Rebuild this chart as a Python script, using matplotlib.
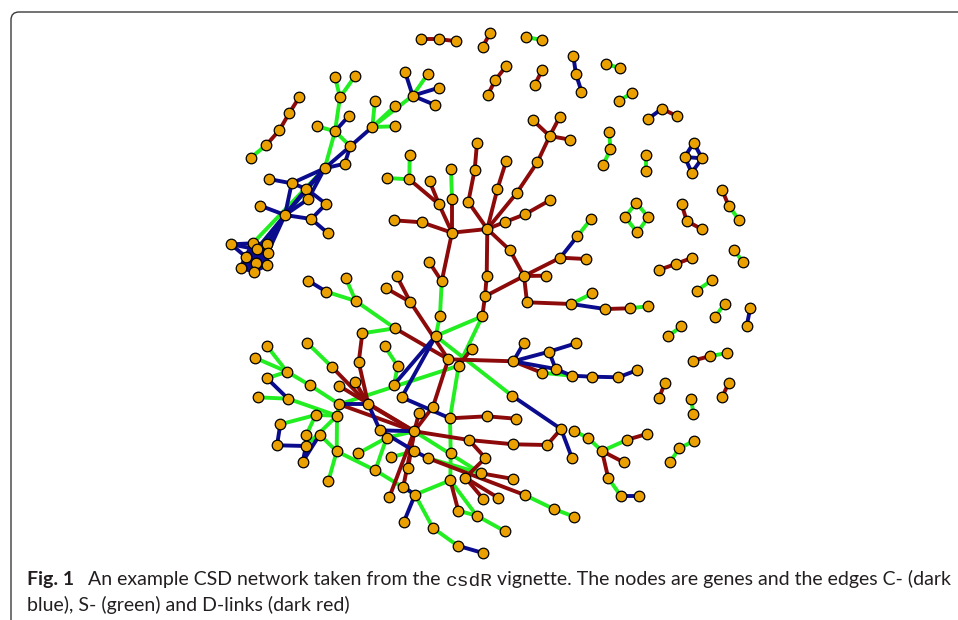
import matplotlib
matplotlib.use("Agg")
import matplotlib.pyplot as plt
from matplotlib.collections import LineCollection
from matplotlib.path import Path
from matplotlib.patches import PathPatch

# ---------------------------------------------------------------- node layout
node_xy = [
    (420.7, 39.3), (439.0, 39.3), (455.7, 41.0),                     # 0-2
    (490.3, 32.7), (482.7, 46.7),                                    # 3-4
    (525.7, 37.0), (542.0, 40.0),                                    # 5-6
    (506.3, 66.0), (495.3, 80.0), (487.7, 95.0),                     # 7-9
    (542.0, 70.3), (534.7, 85.0),                                    # 10-11
    (573.3, 56.0), (576.0, 74.3), (581.5, 91.5),                     # 12-14
    (605.7, 63.7), (620.3, 68.3),                                    # 15-16
    (618.7, 101.0), (632.3, 92.7),                                   # 17-18
    (648.3, 118.7), (662.0, 108.7), (676.7, 116.0),                  # 19-21
    (609.3, 131.7), (610.3, 149.0), (603.3, 165.0),                  # 22-24
    (646.3, 155.0), (646.3, 171.0),                                  # 25-26
    (693.7, 142.7), (684.7, 157.0), (702.0, 158.3), (691.7, 172.7),  # 27-30
    (722.3, 190.3), (728.7, 206.0), (739.3, 220.0),                  # 31-33
    (681.7, 204.3), (686.7, 221.0), (702.0, 229.3),                  # 34-36
    (636.3, 202.7), (625.0, 217.0), (648.3, 217.3), (637.3, 232.3),  # 37-40
    (658.7, 270.0), (675.7, 264.0), (692.3, 257.7),                  # 41-43
    (733.7, 250.3), (743.3, 261.7),                                  # 44-45
    (696.7, 290.7), (711.7, 280.3),                                  # 46-47
    (724.7, 303.7), (714.7, 317.3),                                  # 48-49
    (750.3, 308.0), (746.7, 325.7),                                  # 50-51
    (668.0, 336.3), (681.3, 326.3),                                  # 52-53
    (693.0, 360.7), (710.3, 356.0), (727.3, 353.0),                  # 54-56
    (665.0, 382.7), (659.0, 398.0),                                  # 57-58
    (728.7, 383.0), (722.0, 397.3),                                  # 59-60
    (691.3, 398.7), (693.3, 414.3),                                  # 61-62
    (694.3, 440.7), (679.3, 448.3), (670.0, 462.0),                  # 63-65
    (299.3, 97.3), (289.3, 113.0), (279.3, 130.3), (266.0, 145.3),
    (250.7, 157.7),                                                  # 66-70
    (335.0, 77.0), (355.3, 75.7), (340.0, 97.3), (349.0, 115.7),
    (317.3, 126.3), (335.0, 131.3), (350.3, 146.3), (344.7, 163.7),
    (324.7, 168.3),                                                  # 71-79
    (375.0, 100.7), (395.0, 106.0), (372.3, 127.0), (395.0, 126.3),
    (412.7, 95.7), (405.0, 71.7), (428.0, 73.7), (439.0, 87.7),
    (435.0, 105.0),                                                  # 80-88
    (268.7, 179.0), (291.7, 183.3), (306.3, 188.7), (308.3, 199.0),
    (326.0, 204.0), (260.3, 205.7), (285.0, 215.0), (311.3, 219.0),
    (328.0, 233.3),                                                  # 89-97
    (231.0, 244.3), (252.7, 243.3), (266.7, 244.3), (256.7, 249.3),
    (267.7, 252.7), (245.7, 256.7), (255.7, 263.3), (266.7, 265.3),
    (240.7, 267.7), (253.7, 271.7),                                  # 98-107
    (409.7, 155.3), (409.3, 179.3), (386.7, 178.0), (429.7, 181.3),
    (439.0, 204.3), (451.0, 169.3), (452.0, 199.3), (477.0, 143.0),
    (474.7, 169.7), (468.3, 202.0), (506.3, 160.7), (497.3, 189.3),  # 108-119
    (533.0, 120.3), (559.7, 117.0), (549.7, 136.0), (570.3, 139.7),
    (537.3, 162.3), (516.7, 193.0), (550.3, 200.0), (525.0, 214.3),
    (505.0, 222.0), (487.3, 229.0), (452.0, 232.7), (421.7, 222.3),
    (393.7, 220.3), (429.3, 262.3), (441.7, 281.3), (440.0, 315.7),
    (435.7, 336.0), (486.7, 276.0), (485.0, 296.3), (482.3, 316.3),  # 120-139
    (510.0, 250.3), (524.0, 276.0), (545.7, 275.7), (560.3, 257.7),
    (577.3, 236.3), (591.0, 219.0), (586.0, 259.0), (527.0, 302.3),
    (571.3, 304.0), (592.3, 293.3), (605.0, 309.0), (629.7, 308.3),
    (648.0, 306.3),                                                  # 140-152
    (308.3, 280.7), (326.3, 291.7), (345.7, 278.0), (355.7, 301.0),
    (385.7, 288.0), (396.7, 276.0), (395.0, 328.3), (362.3, 333.3),
    (410.3, 302.0),                                                  # 153-161
    (448.3, 359.3), (458.7, 365.7), (471.7, 348.7), (513.3, 361.3),
    (524.0, 342.7), (549.0, 351.7), (576.0, 343.3), (555.7, 369.0),
    (541.7, 372.7), (571.7, 375.7), (592.3, 376.7), (618.3, 377.3),
    (636.7, 370.3),                                                  # 162-174
    (266.7, 345.7), (254.7, 357.7), (287.0, 371.7), (267.0, 378.3),
    (310.0, 385.3), (307.0, 342.7), (331.7, 366.7), (358.7, 362.3),
    (339.3, 386.0), (355.0, 381.7), (384.7, 346.3), (397.7, 366.0),
    (394.0, 384.7),                                                  # 175-187
    (257.7, 397.3), (288.0, 398.7), (339.3, 404.3), (368.3, 404.3),
    (315.7, 415.0), (337.0, 415.7), (280.3, 424.3), (306.3, 435.0),
    (319.7, 434.7), (277.0, 445.3), (306.0, 446.0), (302.7, 461.7),
    (380.0, 430.3), (386.7, 437.7), (336.7, 451.3), (358.3, 453.3),
    (390.7, 457.3), (375.3, 470.3), (328.3, 481.3), (389.3, 497.3),  # 188-207
    (401.7, 397.3), (433.0, 406.7), (419.0, 413.0), (450.0, 418.3),
    (487.0, 416.3), (515.7, 418.7), (512.0, 395.7), (414.3, 431.3),
    (469.0, 440.0), (513.3, 444.3), (547.0, 445.0), (561.0, 429.0),
    (574.0, 431.0), (572.0, 458.0), (414.3, 451.0), (450.7, 453.0),
    (428.3, 458.3), (485.3, 458.0), (408.0, 468.3), (481.0, 473.3),
    (465.3, 477.7), (513.3, 479.0), (403.3, 486.7), (450.3, 480.3),
    (415.0, 494.7), (483.3, 499.0), (498.0, 497.7), (524.7, 495.0),
    (458.3, 510.7), (476.7, 515.7), (403.7, 522.3), (553.7, 509.0),
    (574.3, 516.7), (505.0, 531.3), (433.0, 528.0), (457.7, 545.7),
    (483.0, 553.0),                                                  # 208-244
    (587.7, 437.7), (602.0, 451.0), (627.3, 439.7), (646.7, 434.0),
    (623.7, 462.3), (608.3, 478.3), (620.7, 495.7), (639.3, 495.7),  # 245-252
]

# dense C-link block on the far left
blue_block = [99, 100, 101, 102, 103, 104, 105, 106, 107]

# ---------------------------------------------------------------- edge lists
c_links = [  # dark blue
    (12, 13), (13, 14), (19, 20), (27, 28), (27, 29), (28, 29), (28, 30),
    (29, 30), (50, 51),
    (74, 76), (82, 77), (85, 84), (87, 84), (88, 84), (77, 79), (77, 78),
    (79, 78), (89, 90), (90, 79), (90, 91), (91, 79), (91, 93), (92, 79),
    (90, 95), (94, 95), (79, 95), (91, 95), (92, 95), (95, 96), (96, 93),
    (96, 97), (95, 100), (95, 102), (95, 101), (98, 99), (98, 103), (98, 101),
    (143, 144), (148, 150), (153, 154),
    (165, 166), (165, 167), (167, 168), (167, 169), (165, 169), (169, 171),
    (171, 172), (172, 173), (173, 174),
    (178, 189), (194, 197), (197, 198), (198, 199), (199, 196),
    (232, 238), (243, 244), (230, 232), (214, 219), (219, 221), (208, 211),
    (136, 208), (190, 191), (191, 200), (200, 215), (200, 222), (222, 224),
    (187, 136), (251, 252),
]
c_links += [(a, b) for i, a in enumerate(blue_block) for b in blue_block[i + 1:]]

s_links = [  # green
    (5, 6), (15, 16), (17, 18), (22, 23), (23, 24), (25, 26), (32, 33),
    (37, 38), (37, 39), (38, 40), (39, 40), (44, 45), (46, 47), (48, 49),
    (52, 53), (55, 56), (61, 62), (63, 64), (64, 65), (69, 70),
    (71, 73), (72, 73), (73, 76), (75, 76), (76, 77), (76, 79), (80, 82),
    (81, 82), (83, 82), (84, 82), (86, 84), (79, 99), (79, 101),
    (108, 109), (109, 110), (113, 114), (134, 135), (135, 136), (144, 145),
    (148, 149), (151, 152), (136, 139),
    (154, 156), (155, 156), (156, 159), (160, 159),
    (170, 171),
    (175, 177), (176, 177), (178, 177), (177, 179), (180, 181), (185, 186),
    (186, 187), (179, 190), (188, 189), (189, 193), (194, 192), (192, 193),
    (193, 190), (195, 192), (196, 202), (198, 193), (193, 202), (202, 205),
    (206, 202), (203, 201), (205, 201), (205, 232), (190, 163), (139, 163),
    (163, 211), (211, 223), (223, 231), (231, 232), (232, 242), (242, 243),
    (231, 237), (236, 237), (237, 241), (215, 227), (224, 227), (136, 214),
    (235, 239), (239, 240), (220, 245), (245, 246), (246, 247), (204, 222),
    (201, 215), (250, 251),
]

d_links = [  # dark red
    (0, 1), (1, 2), (3, 4), (7, 8), (8, 9), (10, 11), (20, 21), (31, 32),
    (34, 35), (35, 36), (41, 42), (42, 43), (54, 55), (57, 58), (59, 60),
    (66, 67), (67, 68), (68, 69),
    (109, 112), (111, 112), (112, 130), (114, 130), (115, 116), (116, 117),
    (117, 129), (118, 119), (119, 129), (120, 122), (121, 122), (122, 123),
    (122, 124), (124, 125), (125, 129), (126, 127), (127, 128), (128, 129),
    (129, 130), (130, 131), (131, 132), (130, 134), (133, 134), (129, 137),
    (137, 138), (138, 139), (138, 141), (129, 140), (140, 141), (141, 142),
    (141, 143), (143, 146), (141, 147), (147, 148), (150, 151),
    (157, 161), (158, 161), (161, 162), (159, 162), (160, 182),
    (162, 165), (164, 163), (165, 170), (162, 209),
    (181, 191), (182, 191), (184, 191), (183, 215), (190, 215), (191, 215),
    (211, 212), (212, 213), (215, 216), (216, 217), (217, 218), (218, 219),
    (216, 225), (225, 228), (227, 229), (224, 235), (228, 233), (228, 234),
    (231, 236), (215, 226), (215, 230), (207, 215), (209, 215), (210, 215),
    (247, 248), (246, 249), (246, 250),
]

# ---------------------------------------------------------------- styling
C_COL, S_COL, D_COL = "#0b0b8e", "#22ee22", "#8c0a0a"
NODE_COL = "#e9a000"
W, H = 958, 620

fig = plt.figure(figsize=(W / 100, H / 100), dpi=100)
ax = fig.add_axes([0, 0, 1, 1])
ax.set_xlim(0, W)
ax.set_ylim(H, 0)
ax.axis("off")

# panel frame with a rounded top-left corner
frame = Path([(11, H), (11, 20), (11, 12), (19, 12), (W, 12)],
             [Path.MOVETO, Path.LINETO, Path.CURVE3, Path.CURVE3, Path.LINETO])
ax.add_patch(PathPatch(frame, fill=False, edgecolor="#3a3a3a", lw=1.0))


def segments(pairs):
    return [[node_xy[a], node_xy[b]] for a, b in pairs]


for pairs, col in ((s_links, S_COL), (d_links, D_COL), (c_links, C_COL)):
    ax.add_collection(LineCollection(segments(pairs), colors=col,
                                     linewidths=2.8, capstyle="round",
                                     zorder=2))

xs = [p[0] for p in node_xy]
ys = [p[1] for p in node_xy]
ax.scatter(xs, ys, s=58, c=NODE_COL, edgecolors="black", linewidths=0.9,
           zorder=3)

# ---------------------------------------------------------------- caption
TXT = "#231f20"
SANS = ["Lato", "DejaVu Sans"]
MONO = ["Liberation Mono", "DejaVu Sans Mono"]
renderer = fig.canvas.get_renderer()

line1 = [("An example CSD network taken from the ", SANS),
         ("csdR", MONO),
         (" vignette. The nodes are genes and the edges C- (dark", SANS)]
X0, X1 = 88, 948
BASE1, BASE2 = 585.5, 611.3

# pick the font size that makes the first caption line run from X0 to X1
probe = 12.0
total = 0.0
for s, fam in line1:
    t = ax.text(0, 0, s, fontsize=probe, family=fam)
    total += t.get_window_extent(renderer).width
    t.remove()
size = probe * (X1 - X0) / total


def put(x, y, s, **kw):
    t = ax.text(x, y, s, va="baseline", ha="left", color=TXT,
                fontsize=size, **kw)
    return x + t.get_window_extent(renderer).width


put(27, BASE1, "Fig. 1", family=SANS, fontweight="bold")
x = X0
for s, fam in line1:
    x = put(x, BASE1, s, family=fam)
put(27, BASE2, "blue), S- (green) and D-links (dark red)", family=SANS)

fig.savefig("out.png", dpi=100)
